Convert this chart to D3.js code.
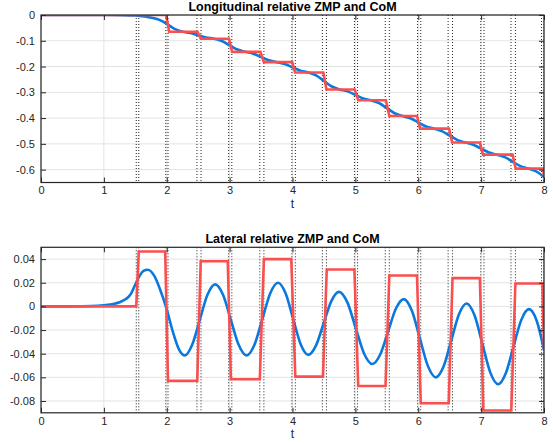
<!DOCTYPE html>
<html><head><meta charset="utf-8">
<script src="https://cdn.jsdelivr.net/npm/d3@7"></script>
<style>
html,body{margin:0;padding:0;background:#fff;}
svg{display:block;font-family:"Liberation Sans",Arial,Helvetica,sans-serif;}
</style></head>
<body><svg id="c" width="553" height="444"></svg>
<script>
// ---------- data ----------
const xTicks = [0,1,2,3,4,5,6,7,8];
const lonYTicks = [0,-0.1,-0.2,-0.3,-0.4,-0.5,-0.6];
const latYTicks = [0.04,0.02,0,-0.02,-0.04,-0.06,-0.08];

const stepLeft  = [1.515,1.985,2.48,2.985,3.48,3.99,4.475,4.985,5.475,5.99,6.475,6.995,7.475,7.96];
const stepRight = [1.555,2.02,2.545,3.035,3.545,4.045,4.54,5.035,5.54,6.04,6.545,7.045,7.545,8.0];

const lonZmpT = [0,1.99,2.04,2.49,2.54,2.99,3.04,3.49,3.545,3.995,4.04,4.49,4.54,4.99,5.045,5.485,5.54,5.98,6.03,6.49,6.54,6.98,7.03,7.5,7.55,7.985,8.0];
const lonZmpV = [0,0,-0.065,-0.065,-0.092,-0.092,-0.143,-0.143,-0.183,-0.183,-0.223,-0.223,-0.289,-0.289,-0.331,-0.331,-0.392,-0.392,-0.441,-0.441,-0.495,-0.495,-0.542,-0.542,-0.596,-0.596,-0.625];

const lonComT = [0,1.0,1.3,1.5,1.65,1.8,1.9,
  2.0,2.125,2.25,2.375,2.5,2.625,2.75,2.875,3.0,3.125,3.25,3.375,3.5,3.625,3.75,3.875,
  4.0,4.125,4.25,4.375,4.5,4.625,4.75,4.875,5.0,5.125,5.25,5.375,5.5,5.625,5.75,5.875,
  6.0,6.125,6.25,6.375,6.5,6.625,6.75,6.875,7.0,7.125,7.25,7.375,7.5,7.625,7.75,7.875,8.0];
const lonComV = [0,0,-0.0005,-0.002,-0.006,-0.013,-0.021,
  -0.034,-0.054,-0.065,-0.0697,-0.0785,-0.0873,-0.092,-0.1009,-0.1175,-0.1341,-0.143,-0.150,-0.163,-0.176,-0.183,-0.190,
  -0.203,-0.216,-0.223,-0.2346,-0.256,-0.2775,-0.289,-0.2964,-0.31,-0.3237,-0.331,-0.3416,-0.3615,-0.3813,-0.392,-0.4006,
  -0.4165,-0.4324,-0.441,-0.4505,-0.468,-0.4856,-0.495,-0.5033,-0.5185,-0.5338,-0.542,-0.5515,-0.569,-0.5866,-0.596,-0.607,-0.629];

const latZmpT = [0,1.515,1.555,1.975,2.02,2.485,2.54,2.97,3.02,3.48,3.545,3.98,4.045,4.485,4.545,4.985,5.045,5.48,5.54,5.98,6.04,6.485,6.545,6.98,7.035,7.48,7.545,7.975,8.0];
const latZmpV = [0,0,0.0465,0.0465,-0.063,-0.063,0.0382,0.0382,-0.0616,-0.0616,0.040,0.040,-0.0594,-0.0594,0.0312,0.0312,-0.0673,-0.0673,0.0262,0.0262,-0.0819,-0.0819,0.0239,0.0239,-0.0881,-0.0881,0.0194,0.0194,-0.037];

const latComT = [0,0.5,0.8,1.0,1.15,1.25,1.35,1.42,1.5,1.57,1.63,1.7,1.8,1.9,2.0,2.1,2.2,2.29,
  2.4025,2.525,2.6475,2.77,2.895,3.02,3.145,3.27,3.395,3.52,3.645,3.77,3.89,4.01,4.13,4.25,
  4.3725,4.495,4.6175,4.74,4.8725,5.005,5.1375,5.27,5.395,5.52,5.645,5.77,5.8975,6.025,6.1525,6.28,
  6.4025,6.525,6.6475,6.77,6.895,7.02,7.145,7.27,7.3925,7.515,7.6375,7.76,7.885,8.0];
const latComV = [0,0,0.0003,0.001,0.002,0.0035,0.0062,0.0098,0.0185,0.026,0.030,0.031,0.026,0.0135,-0.0025,-0.022,-0.037,-0.0415,
  -0.0327,-0.0115,0.0098,0.0186,0.0098,-0.0115,-0.0327,-0.0415,-0.0325,-0.0108,0.011,0.020,0.0111,-0.0105,-0.032,-0.041,
  -0.0332,-0.0144,0.0045,0.0123,0.0034,-0.0182,-0.0398,-0.0487,-0.0407,-0.0213,-0.0018,0.0062,-0.0035,-0.0269,-0.0503,-0.060,
  -0.0509,-0.0288,-0.0066,0.0025,-0.0075,-0.0317,-0.0558,-0.0658,-0.0565,-0.034,-0.0116,-0.0023,-0.0123,-0.037];

// ---------- drawing ----------
const svg = d3.select("#c");
const BLUE = "#0b78dc", RED = "#fb4f4f", AX = "#262626", GRID = "#e3e3e3";

function panel(o){
  const x = d3.scaleLinear().domain([0,8]).range([o.left,o.right]);
  const y = d3.scaleLinear().domain(o.ydom).range([o.bottom,o.top]);
  const g = svg.append("g");
  const id = "clip"+o.name;
  svg.append("clipPath").attr("id",id).append("rect")
    .attr("x",o.left).attr("y",o.top).attr("width",o.right-o.left).attr("height",o.bottom-o.top);

  // grid
  g.append("g").selectAll("line").data(xTicks).join("line")
    .attr("x1",d=>x(d)).attr("x2",d=>x(d)).attr("y1",o.top).attr("y2",o.bottom)
    .attr("stroke",GRID).attr("stroke-width",1);
  g.append("g").selectAll("line").data(o.yticks).join("line")
    .attr("y1",d=>y(d)).attr("y2",d=>y(d)).attr("x1",o.left).attr("x2",o.right)
    .attr("stroke",GRID).attr("stroke-width",1);

  // dotted step markers
  const dots = g.append("g").attr("clip-path",`url(#${id})`);
  dots.selectAll("line.l").data(stepLeft.concat(stepRight)).join("line")
    .attr("x1",d=>x(d)).attr("x2",d=>x(d)).attr("y1",o.top).attr("y2",o.bottom)
    .attr("stroke","#222").attr("stroke-width",1).attr("stroke-dasharray","1,2");

  // curves
  const cg = g.append("g").attr("clip-path",`url(#${id})`);
  const lineC = d3.line().x(d=>x(d[0])).y(d=>y(d[1])).curve(d3.curveMonotoneX);
  const lineZ = d3.line().x(d=>x(d[0])).y(d=>y(d[1]));
  cg.append("path").attr("d",lineC(d3.zip(o.comT,o.comV)))
    .attr("fill","none").attr("stroke",BLUE).attr("stroke-width",2.6);
  cg.append("path").attr("d",lineZ(d3.zip(o.zmpT,o.zmpV)))
    .attr("fill","none").attr("stroke",RED).attr("stroke-width",2.6).attr("stroke-linejoin","miter");

  // axes
  const fmt = d=> String(d);
  const ax = g.append("g").attr("transform",`translate(0,${o.bottom})`)
    .call(d3.axisBottom(x).tickValues(xTicks).tickFormat(fmt).tickSizeInner(-5).tickSizeOuter(0).tickPadding(4));
  const ay = g.append("g").attr("transform",`translate(${o.left},0)`)
    .call(d3.axisLeft(y).tickValues(o.yticks).tickFormat(fmt).tickSizeInner(-5).tickSizeOuter(0).tickPadding(6));
  const at = g.append("g").attr("transform",`translate(0,${o.top})`)
    .call(d3.axisTop(x).tickValues(xTicks).tickFormat("").tickSizeInner(-5).tickSizeOuter(0));
  const ar = g.append("g").attr("transform",`translate(${o.right},0)`)
    .call(d3.axisRight(y).tickValues(o.yticks).tickFormat("").tickSizeInner(-5).tickSizeOuter(0));
  [ax,ay,at,ar].forEach(a=>{
    a.select(".domain").remove();
    a.selectAll(".tick line").attr("stroke",AX).attr("stroke-width",1);
    a.selectAll("text").attr("fill","#262626").attr("font-size",11);
  });
  g.append("rect").attr("x",o.left).attr("y",o.top).attr("width",o.right-o.left).attr("height",o.bottom-o.top)
    .attr("fill","none").attr("stroke",AX).attr("stroke-width",1.2);

  // title and x label
  g.append("text").attr("x",(o.left+o.right)/2).attr("y",o.top-4).attr("text-anchor","middle")
    .attr("font-weight","bold").attr("font-size",12.5).attr("fill","#000").text(o.title);
  g.append("text").attr("x",(o.left+o.right)/2).attr("y",o.bottom+25).attr("text-anchor","middle")
    .attr("font-size",12).attr("fill","#262626").text("t");
}

panel({name:"a",left:41,right:544,top:15,bottom:182.5,ydom:[-0.65,0],yticks:lonYTicks,
  comT:lonComT,comV:lonComV,zmpT:lonZmpT,zmpV:lonZmpV,title:"Longitudinal relative ZMP and CoM"});
panel({name:"b",left:41,right:544,top:247.3,bottom:412.8,ydom:[-0.09,0.05],yticks:latYTicks,
  comT:latComT,comV:latComV,zmpT:latZmpT,zmpV:latZmpV,title:"Lateral relative ZMP and CoM"});
</script></body></html>
